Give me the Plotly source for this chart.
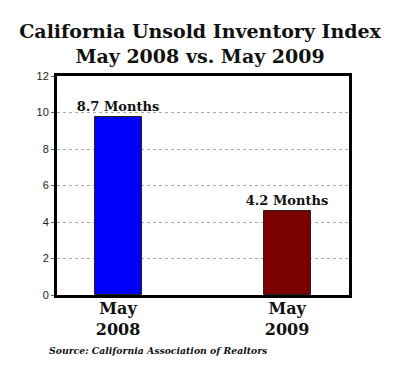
import plotly.graph_objects as go

categories = ["May<br>2008", "May<br>2009"]
bar_values = [9.75, 4.6]
label_texts = ["8.7 Months", "4.2 Months"]
bar_colors = ["#0000FF", "#7B0000"]
y_ticks = [0, 2, 4, 6, 8, 10, 12]

x_pos = list(range(len(categories)))
serif = "DejaVu Serif, Georgia, serif"

fig = go.Figure()
fig.add_trace(go.Bar(
    x=x_pos, y=bar_values, width=0.278,
    marker=dict(color=bar_colors, line=dict(color="#222222", width=1)),
    text=["<b>%s</b>" % t for t in label_texts], textposition="outside",
    constraintext="none",
    textfont=dict(family=serif, size=13, color="#111111"),
    cliponaxis=False, showlegend=False,
))

fig.update_layout(
    width=392, height=369,
    margin=dict(l=49, r=51, t=68, b=82),
    paper_bgcolor="white", plot_bgcolor="white",
    title=dict(
        text="<b>California Unsold Inventory Index<br>May 2008 vs. May 2009</b>",
        x=0.49, xanchor="center", y=0.918, yanchor="top",
        font=dict(family=serif, size=19, color="#111111"),
    ),
    xaxis=dict(
        range=[-0.361, 1.366], tickvals=x_pos,
        ticktext=["<b>%s</b>" % c for c in categories],
        tickfont=dict(family=serif, size=16, color="#111111"),
        ticklabelstandoff=-3,
        showgrid=False, zeroline=False, showline=True, mirror=True,
        linecolor="black", linewidth=3, ticks="",
    ),
    yaxis=dict(
        range=[0, 12], tickvals=y_ticks,
        tickfont=dict(family="Liberation Sans, Arial, sans-serif", size=11, color="#222222"),
        showgrid=True, gridcolor="#aaaaaa", griddash="dot", gridwidth=1,
        zeroline=False, showline=True, mirror=True, linecolor="black", linewidth=3,
        ticks="outside", ticklen=3, tickcolor="#666666",
    ),
    bargap=0,
)

fig.add_annotation(
    text="<b><i>Source: California Association of Realtors</i></b>",
    xref="paper", yref="paper", x=-0.035, y=-0.255, xanchor="left", yanchor="middle",
    showarrow=False, font=dict(family=serif, size=9.3, color="#111111"),
)

fig.write_html("out.html")
